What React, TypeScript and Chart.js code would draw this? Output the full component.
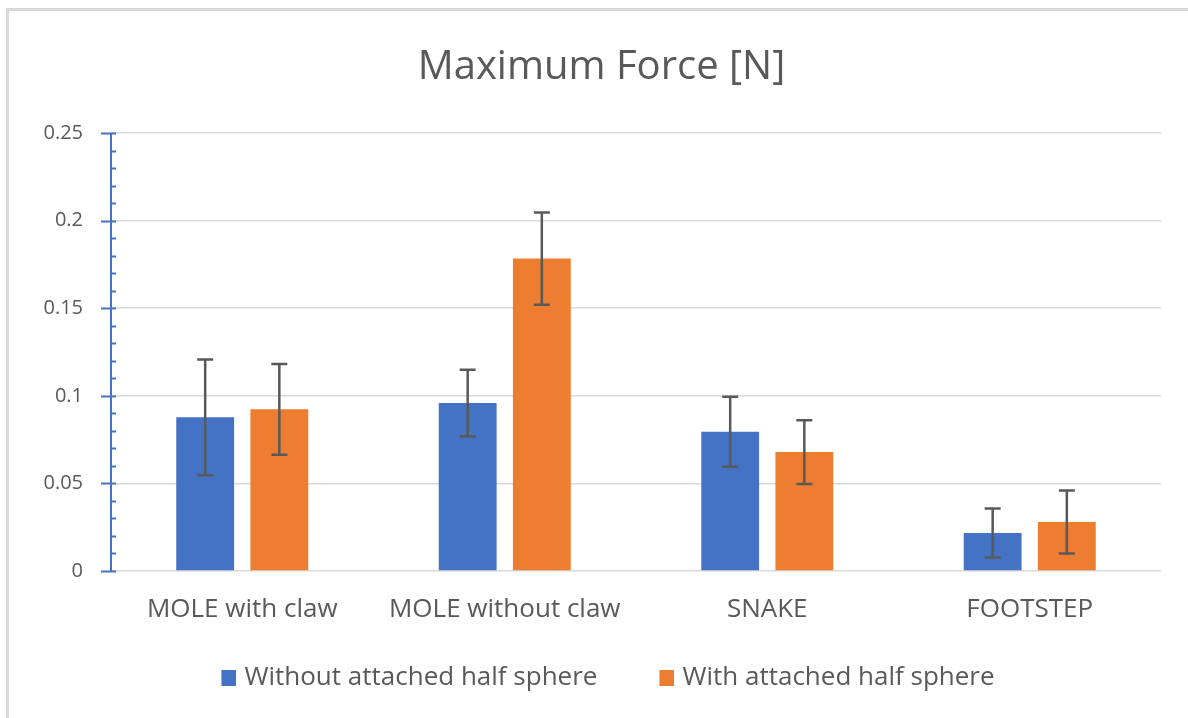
import React, { useEffect, useRef } from "react";
import { Chart, registerables } from "chart.js";

Chart.register(...registerables);

const categories = ["MOLE with claw", "MOLE without claw", "SNAKE", "FOOTSTEP"];
const seriesNames = ["Without attached half sphere", "With attached half sphere"];
const seriesColors = ["#4472C4", "#ED7D31"];
const withoutValues = [0.0877, 0.0959, 0.0795, 0.0217];
const withoutErrors = [0.033, 0.019, 0.02, 0.014];
const withValues = [0.0923, 0.1783, 0.0679, 0.028];
const withErrors = [0.0259, 0.0263, 0.0182, 0.018];
const yMin = 0;
const yMax = 0.25;
const yStep = 0.05;
const yMinorStep = 0.01;

const TEXT = "#595959";
const FONT = "'Open Sans', sans-serif";

function makeSwatch(color: string) {
  const c = document.createElement("canvas");
  c.width = 33;
  c.height = 16;
  const g = c.getContext("2d");
  if (g) {
    g.fillStyle = color;
    g.fillRect(18, 0, 15, 16);
  }
  return c;
}

const errorBarPlugin = {
  id: "errorBars",
  afterDatasetsDraw(chart: any) {
    const ctx = chart.ctx;
    const yScale = chart.scales.y;
    ctx.save();
    ctx.strokeStyle = "#595959";
    ctx.lineWidth = 2.5;
    chart.data.datasets.forEach((ds: any, di: number) => {
      const meta = chart.getDatasetMeta(di);
      const errs = ds.errors as number[];
      meta.data.forEach((bar: any, i: number) => {
        const v = ds.data[i];
        const e = errs[i];
        const x = bar.x;
        const yt = yScale.getPixelForValue(v + e);
        const yb = yScale.getPixelForValue(v - e);
        const cap = 8;
        ctx.beginPath();
        ctx.moveTo(x, yt);
        ctx.lineTo(x, yb);
        ctx.moveTo(x - cap, yt);
        ctx.lineTo(x + cap, yt);
        ctx.moveTo(x - cap, yb);
        ctx.lineTo(x + cap, yb);
        ctx.stroke();
      });
    });
    ctx.restore();
  },
};

const axisPlugin = {
  id: "blueAxis",
  afterDraw(chart: any) {
    const ctx = chart.ctx;
    const yScale = chart.scales.y;
    const left = chart.chartArea.left;
    ctx.save();
    ctx.strokeStyle = "#4472C4";
    ctx.lineWidth = 2;
    ctx.beginPath();
    ctx.moveTo(left, yScale.getPixelForValue(yMax));
    ctx.lineTo(left, yScale.getPixelForValue(yMin));
    const nMinor = Math.round((yMax - yMin) / yMinorStep);
    const perMajor = Math.round(yStep / yMinorStep);
    for (let k = 0; k <= nMinor; k++) {
      const v = yMin + k * yMinorStep;
      const y = Math.round(yScale.getPixelForValue(v)) + 0.5;
      if (k % perMajor === 0) {
        ctx.moveTo(left - 10, y);
        ctx.lineTo(left + 5, y);
      } else {
        ctx.moveTo(left - 1, y);
        ctx.lineTo(left + 5, y);
      }
    }
    ctx.stroke();
    ctx.restore();
  },
};

export default function App() {
  const ref = useRef<HTMLCanvasElement | null>(null);

  useEffect(() => {
    if (!ref.current) return;
    const swatches = seriesColors.map(makeSwatch);
    const chart = new Chart(ref.current, {
      type: "bar",
      data: {
        labels: categories,
        datasets: [
          {
            label: seriesNames[0],
            data: withoutValues,
            errors: withoutErrors,
            backgroundColor: seriesColors[0],
            categoryPercentage: 0.565,
            barPercentage: 0.78,
          } as any,
          {
            label: seriesNames[1],
            data: withValues,
            errors: withErrors,
            backgroundColor: seriesColors[1],
            categoryPercentage: 0.565,
            barPercentage: 0.78,
          } as any,
        ],
      },
      options: {
        animation: false,
        responsive: false,
        maintainAspectRatio: false,
        layout: { padding: { left: 33, right: 36, top: 0, bottom: 17 } },
        plugins: {
          title: {
            display: true,
            text: "Maximum Force [N]",
            color: TEXT,
            font: { family: FONT, size: 40, weight: "normal" },
            padding: { top: 33, bottom: 41 },
          },
          legend: {
            display: true,
            position: "bottom",
            labels: {
              color: TEXT,
              font: { family: FONT, size: 26 },
              usePointStyle: true,
              pointStyleWidth: 23,
              boxHeight: 16,
              padding: 49,
              generateLabels(c: any) {
                const items = (Chart.defaults.plugins.legend.labels as any).generateLabels(c);
                items.forEach((it: any, i: number) => {
                  it.pointStyle = swatches[i];
                  it.lineWidth = 0;
                });
                return items;
              },
            },
          },
          tooltip: { enabled: false },
        },
        scales: {
          x: {
            afterFit(scale: any) {
              scale.height = 45;
            },
            grid: { display: false, drawTicks: false },
            border: { display: false },
            ticks: {
              color: TEXT,
              font: { family: FONT, size: 26 },
              mirror: true,
              padding: -54.6,
            },
          },
          y: {
            min: yMin,
            max: yMax,
            afterFit(scale: any) {
              scale.width = 69;
            },
            grid: { color: "#d9d9d9", lineWidth: 1.5, drawTicks: false },
            border: { display: false },
            ticks: {
              stepSize: yStep,
              color: TEXT,
              font: { family: FONT, size: 20, lineHeight: 1 },
              padding: 28,
              callback: (v: any) => String(Number(Number(v).toFixed(2))),
            },
          },
        },
      },
      plugins: [errorBarPlugin, axisPlugin],
    });
    return () => chart.destroy();
  }, []);

  return (
    <div
      style={{
        position: "fixed",
        left: 6,
        top: 8,
        width: 1182,
        height: 710,
        overflow: "hidden",
        borderTop: "3px solid #d9d9d9",
        borderLeft: "3px solid #d9d9d9",
        background: "#fff",
        boxSizing: "border-box",
      }}
    >
      <canvas ref={ref} width={1188} height={707} style={{ display: "block" }} />
    </div>
  );
}
